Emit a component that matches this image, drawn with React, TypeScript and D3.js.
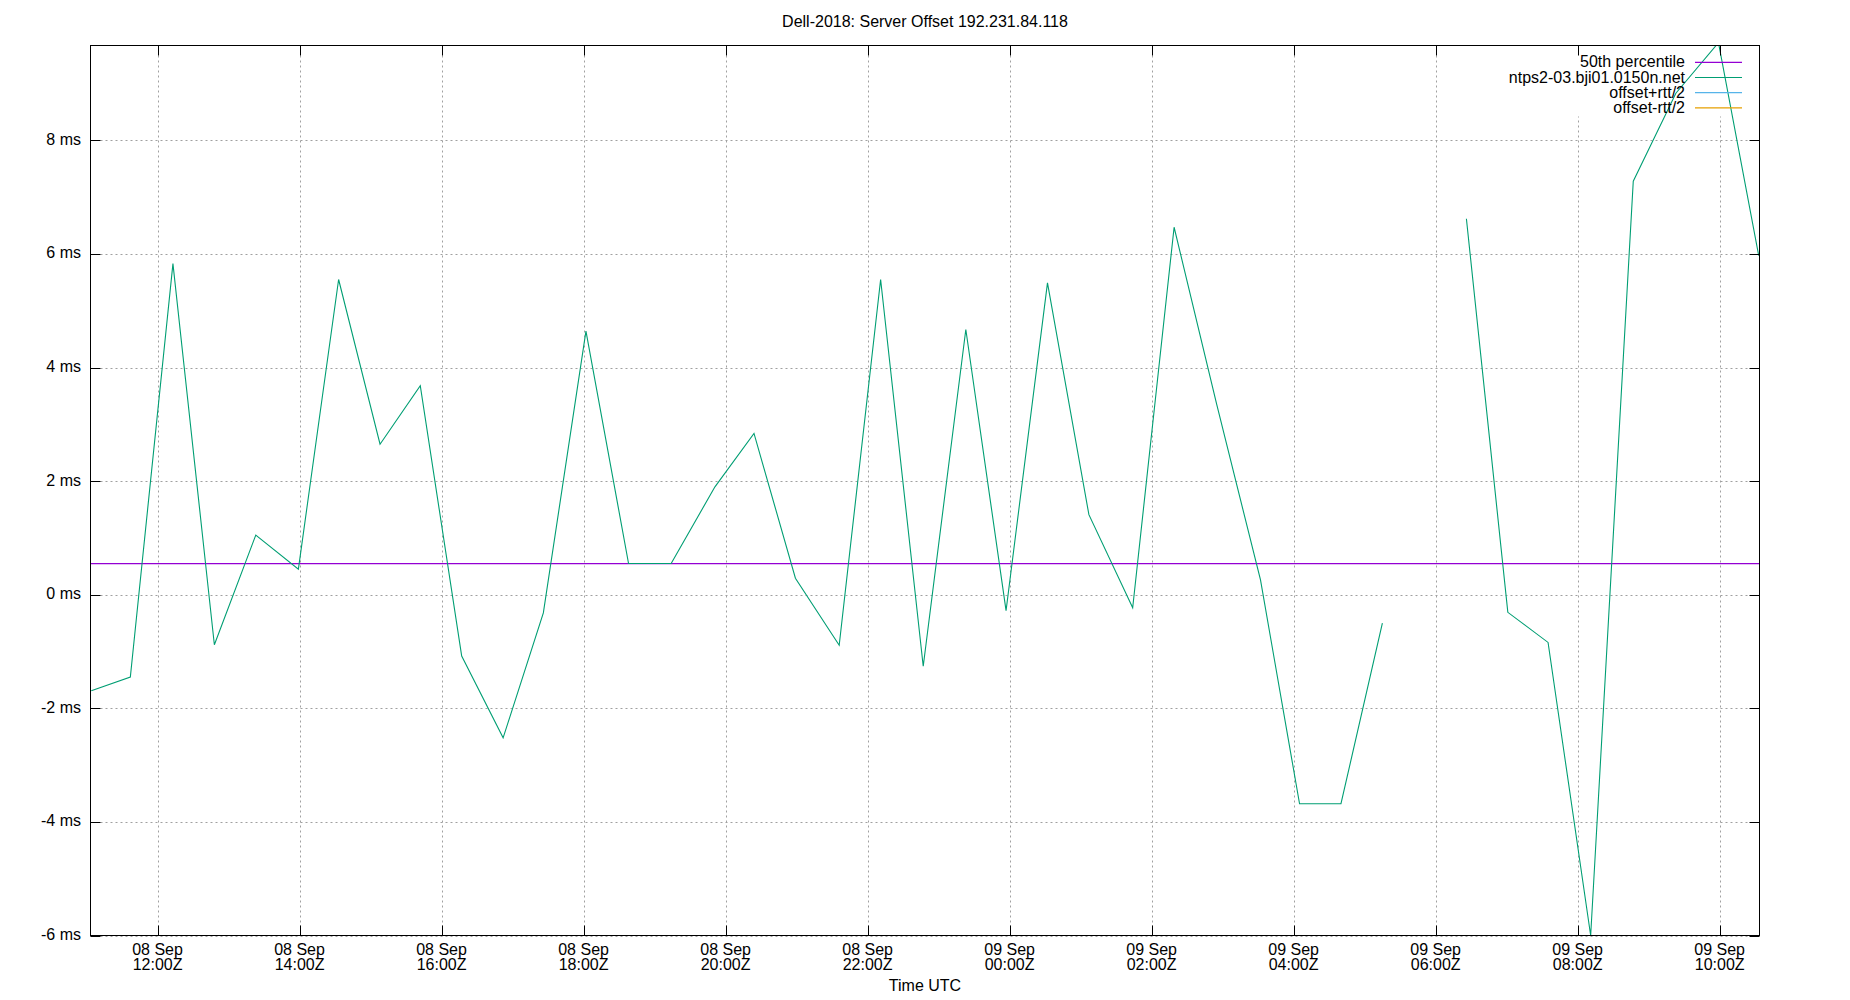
import React from 'react'
import * as d3 from 'd3'

// Offset samples (UTC time, offset in ms); null = gap
const sampleTimes = [
  '2018-09-08 11:04', '2018-09-08 11:37', '2018-09-08 12:13', '2018-09-08 12:48',
  '2018-09-08 13:23', '2018-09-08 13:59', '2018-09-08 14:33', '2018-09-08 15:08',
  '2018-09-08 15:42', '2018-09-08 16:17', '2018-09-08 16:52', '2018-09-08 17:26',
  '2018-09-08 18:02', '2018-09-08 18:38', '2018-09-08 19:14', '2018-09-08 19:51',
  '2018-09-08 20:24', '2018-09-08 20:59', '2018-09-08 21:36', '2018-09-08 22:11',
  '2018-09-08 22:47', '2018-09-08 23:23', '2018-09-08 23:57', '2018-09-09 00:32',
  '2018-09-09 01:07', '2018-09-09 01:44', '2018-09-09 02:19', '2018-09-09 02:55',
  '2018-09-09 03:32', '2018-09-09 04:05', '2018-09-09 04:40', '2018-09-09 05:15',
  '2018-09-09 05:50', '2018-09-09 06:26', '2018-09-09 07:01', '2018-09-09 07:35',
  '2018-09-09 08:11', '2018-09-09 08:47', '2018-09-09 09:23', '2018-09-09 09:59',
  '2018-09-09 10:33',
]
const offsetMs = [
  -1.69, -1.45, 5.83, -0.88,
  1.05, 0.45, 5.55, 2.65,
  3.68, -1.08, -2.52, -0.32,
  4.64, 0.55, 0.55, 1.9,
  2.84, 0.29, -0.89, 5.55,
  -1.26, 4.67, -0.28, 5.49,
  1.41, -0.23, 6.47, 3.35,
  0.26, -3.68, -3.68, -0.5,
  null, 6.62, -0.31, -0.84,
  -6.0, 7.28, 8.83, 9.72,
  5.97,
]
const percentile50 = 0.546
const yTicks = [-6, -4, -2, 0, 2, 4, 6, 8]
const xDomain = ['2018-09-08 11:03:20', '2018-09-09 10:33:40']
const yDomain = [-6, 9.67]
const legendLabels = ['50th percentile', 'ntps2-03.bji01.0150n.net', 'offset+rtt/2', 'offset-rtt/2']
const legendColors = ['#9400d3', '#009e73', '#56b4e9', '#e69f00']

const W = 1850
const H = 1000
const left = 90.5
const right = 1759.5
const top = 45.5
const bottom = 935.5
const font = '"Liberation Sans", Arial, sans-serif'

const parseMin = d3.utcParse('%Y-%m-%d %H:%M')
const parseSec = d3.utcParse('%Y-%m-%d %H:%M:%S')

export default function App() {
  const data = sampleTimes.map((t, i) => ({ t: parseMin(t) as Date, v: offsetMs[i] }))

  const x = d3.scaleUtc().domain(xDomain.map((d) => parseSec(d) as Date)).range([left, right])
  const y = d3.scaleLinear().domain(yDomain).range([bottom, top])

  const xTicks = x.ticks(d3.utcHour.every(2) as d3.TimeInterval)
  const fmtDay = d3.utcFormat('%d %b')
  const fmtHour = d3.utcFormat('%H:%MZ')

  const line = d3
    .line<{ t: Date; v: number | null }>()
    .defined((d) => d.v !== null)
    .x((d) => x(d.t))
    .y((d) => y(d.v as number))

  const legendTextX = 1685
  const legendLineX0 = 1695
  const legendLineX1 = 1742
  const legendY0 = 62.3
  const legendStep = 15.2

  return (
    <svg
      width={W}
      height={H}
      style={{ position: 'absolute', left: 0, top: 0, background: '#fff' }}
      fontFamily={font}
      fontSize={16}
    >
      <defs>
        <clipPath id="plot">
          <rect x={left} y={top} width={right - left} height={bottom - top} />
        </clipPath>
      </defs>
      <rect width={W} height={H} fill="#fff" />

      {/* grid */}
      <g stroke="#a0a0a0" strokeWidth={1} strokeDasharray="2,3">
        {xTicks.map((d, i) => (
          <line key={'gx' + i} x1={Math.round(x(d)) + 0.5} x2={Math.round(x(d)) + 0.5} y1={top} y2={bottom} />
        ))}
        {yTicks.map((d, i) => (
          <line key={'gy' + i} x1={left} x2={right} y1={Math.round(y(d)) + 0.5} y2={Math.round(y(d)) + 0.5} />
        ))}
      </g>
      {/* key area hides the grid */}
      <rect x={1500} y={top + 1} width={right - 1500 - 1} height={70} fill="#fff" />

      {/* series */}
      <g clipPath="url(#plot)" fill="none">
        <line x1={left} x2={right} y1={y(percentile50)} y2={y(percentile50)} stroke={legendColors[0]} strokeWidth={1.2} />
        <path d={line(data) as string} stroke={legendColors[1]} strokeWidth={1.1} />
      </g>

      {/* border */}
      <rect x={left} y={top} width={right - left} height={bottom - top} fill="none" stroke="#000" strokeWidth={1} />

      {/* ticks */}
      <g stroke="#000" strokeWidth={1}>
        {xTicks.map((d, i) => {
          const xx = Math.round(x(d)) + 0.5
          return (
            <g key={'tx' + i}>
              <line x1={xx} x2={xx} y1={bottom} y2={bottom - 10} />
              <line x1={xx} x2={xx} y1={top} y2={top + 10} />
            </g>
          )
        })}
        {yTicks.map((d, i) => {
          const yy = Math.round(y(d)) + 0.5
          return (
            <g key={'ty' + i}>
              <line x1={left} x2={left + 10} y1={yy} y2={yy} />
              <line x1={right} x2={right - 10} y1={yy} y2={yy} />
            </g>
          )
        })}
      </g>

      {/* tick labels */}
      <g fill="#000">
        {yTicks.map((d, i) => (
          <text key={'ly' + i} x={81} y={y(d) + 4.5} textAnchor="end">
            {d} ms
          </text>
        ))}
        {xTicks.map((d, i) => (
          <text key={'lx' + i} x={x(d)} textAnchor="middle">
            <tspan x={x(d)} y={954.5}>{fmtDay(d)}</tspan>
            <tspan x={x(d)} y={969.5}>{fmtHour(d)}</tspan>
          </text>
        ))}
        <text x={(left + right) / 2} y={991} textAnchor="middle">
          Time UTC
        </text>
        <text x={(left + right) / 2} y={26.5} textAnchor="middle">
          Dell-2018: Server Offset 192.231.84.118
        </text>
      </g>

      {/* legend */}
      <g>
        {legendLabels.map((label, i) => {
          const ly = legendY0 + i * legendStep
          return (
            <g key={'lg' + i}>
              <text x={legendTextX} y={ly + 5} textAnchor="end" fill="#000">
                {label}
              </text>
              <line x1={legendLineX0} x2={legendLineX1} y1={ly} y2={ly} stroke={legendColors[i]} strokeWidth={1.2} />
            </g>
          )
        })}
      </g>
    </svg>
  )
}
